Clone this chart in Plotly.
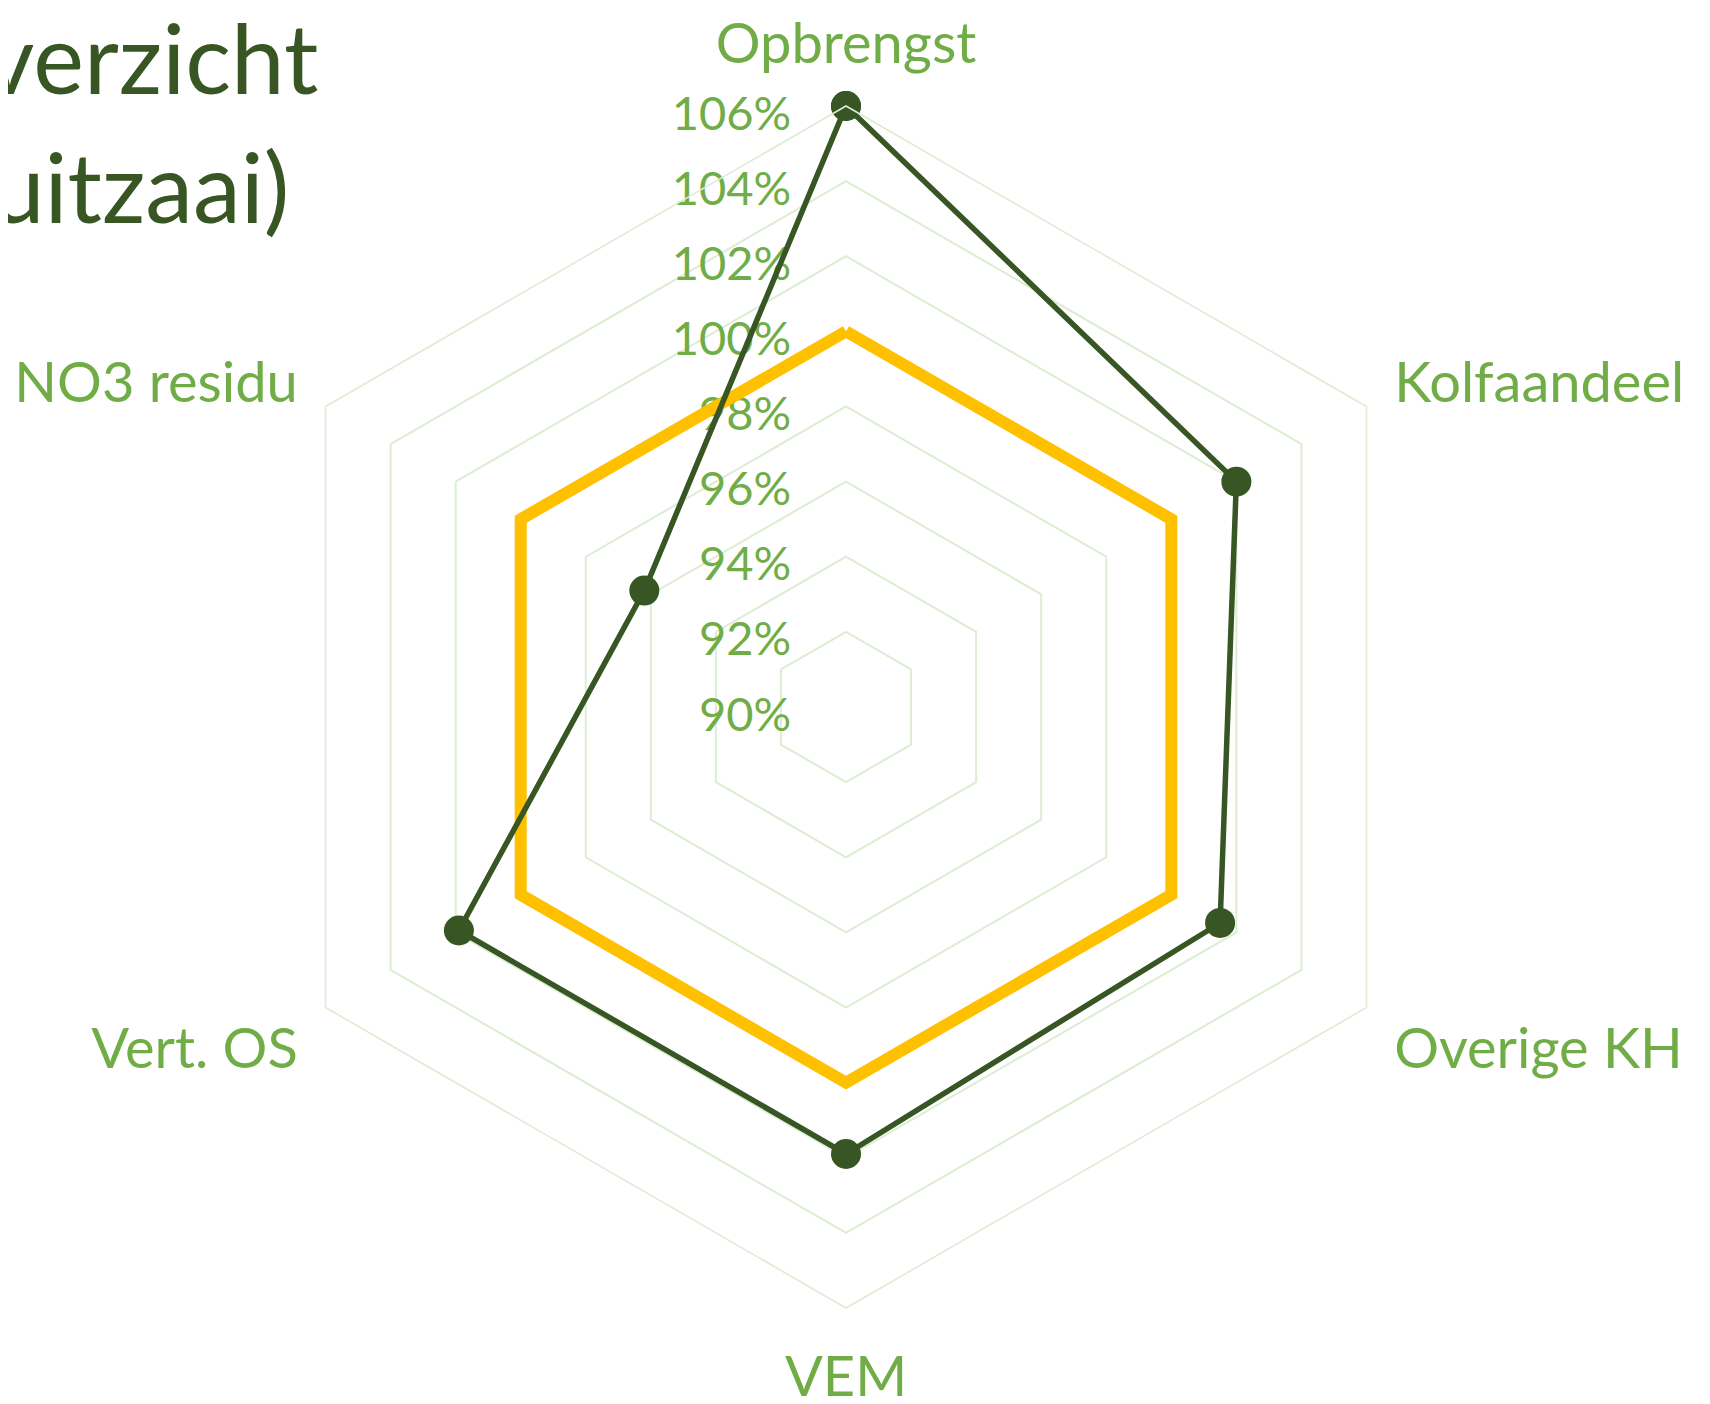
import plotly.graph_objects as go

categories = ["Opbrengst", "Kolfaandeel", "Overige KH", "VEM", "Vert. OS", "NO3 residu"]
series_ras = [106.0, 102.0, 101.5, 101.9, 101.9, 96.2]
series_ref = [100, 100, 100, 100, 100, 100]
tick_vals = [90, 92, 94, 96, 98, 100, 102, 104, 106]
tick_text = ["90%", "92%", "94%", "96%", "98%", "100%", "102%", "104%", "106%"]
title_lines = ["verzicht", "uitzaai)"]

DARK = "#375623"
LIGHT = "#70AD47"
YELLOW = "#FFC000"
GRID = "#DCEDD3"
FONT = "Lato, 'Open Sans', sans-serif"

W, H = 1710, 1404
cx, cy, R = 838, 699, 601

fig = go.Figure()
cats_closed = categories + [categories[0]]
fig.add_trace(go.Scatterpolar(
    r=series_ref + [series_ref[0]], theta=cats_closed, mode="lines",
    line=dict(color=YELLOW, width=12), hoverinfo="skip", showlegend=False))
fig.add_trace(go.Scatterpolar(
    r=series_ras + [series_ras[0]], theta=cats_closed, mode="lines+markers",
    line=dict(color=DARK, width=5.5), marker=dict(color=DARK, size=30),
    showlegend=False))

fig.update_layout(
    width=W, height=H,
    margin=dict(l=0, r=0, t=0, b=0),
    paper_bgcolor="white", plot_bgcolor="white",
    showlegend=False,
    polar=dict(
        domain=dict(x=[(cx - R) / W, (cx + R) / W], y=[1 - (cy + R) / H, 1 - (cy - R) / H]),
        bgcolor="white",
        gridshape="linear",
        angularaxis=dict(
            rotation=90, direction="clockwise",
            showgrid=False, showline=True, linecolor=GRID, linewidth=1.6,
            ticks="outside", ticklen=20, tickcolor="rgba(0,0,0,0)",
            tickfont=dict(family=FONT, size=56, color=LIGHT),
        ),
        radialaxis=dict(
            range=[90, 106], tickvals=tick_vals, ticktext=tick_text,
            angle=90, side="counterclockwise",
            showline=False, showgrid=True, gridcolor=GRID, gridwidth=1.6,
            ticks="outside", ticklen=12, tickcolor="rgba(0,0,0,0)",
            tickfont=dict(family=FONT, size=47, color=LIGHT),
            layer="below traces",
        ),
    ),
)

title_right = [312, 283]
title_base = [97, 226]
for i, txt in enumerate(title_lines):
    fig.add_annotation(
        text=txt, xref="paper", yref="paper",
        x=title_right[i] / W, y=1 - title_base[i] / H,
        xanchor="right", yanchor="bottom", yshift=-11,
        showarrow=False, font=dict(family=FONT, size=96, color=DARK))

fig.write_html("out.html")
